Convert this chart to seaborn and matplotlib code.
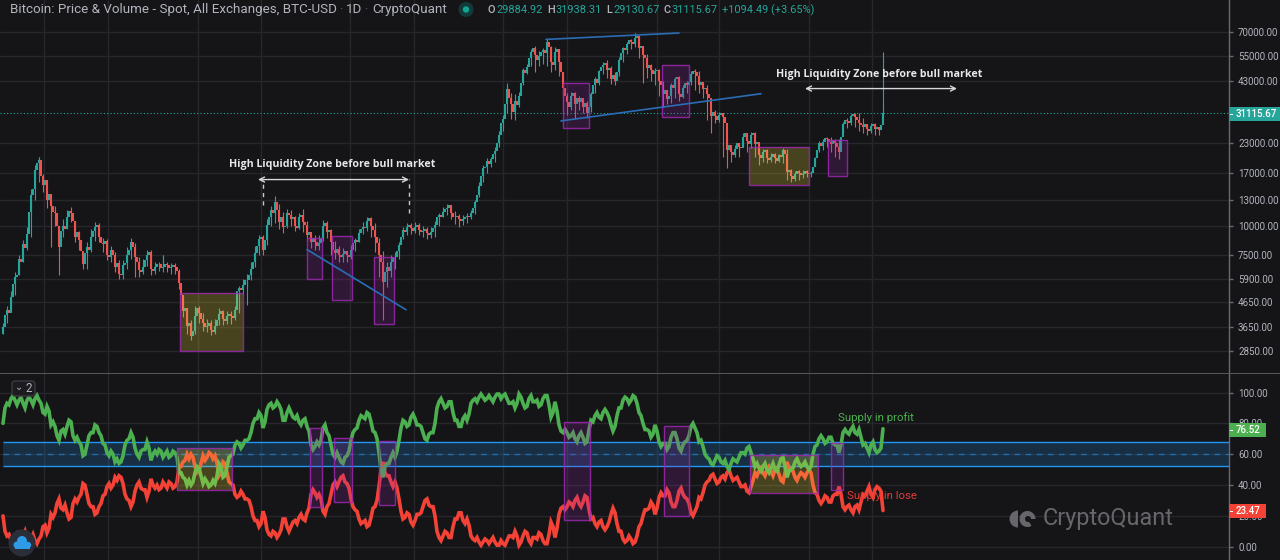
import numpy as np
import seaborn as sns
import matplotlib.pyplot as plt
from matplotlib.patches import Rectangle, Circle, FancyBboxPatch, Wedge
from matplotlib.transforms import IdentityTransform

# daily chart thinned out: one main reading every ~10 days...
price_close = [
    3650, 4320, 4930, 6010, 7190, 8330, 9200, 13600, 17500, 19400,
    15100, 13000, 12200, 11350, 8090, 10050, 10900, 11350, 8930, 8660,
    6840, 8090, 8930, 9860, 8930, 8330, 7480, 7900, 6640, 6190,
    6770, 7480, 8500, 7330, 6450, 6640, 7480, 6510, 6640, 6840,
    6640, 6770, 6640, 6640, 5620, 4250, 3670, 3320, 4050, 4180,
    3780, 3670, 3510, 3670, 4130, 3930, 4050, 4050, 4320, 5390,
    5560, 5840, 6510, 7650, 8750, 7900, 10150, 11800, 12700, 10400,
    9860, 11350, 10700, 10050, 10900, 10400, 9110, 8500, 8500, 8420,
    10050, 9400, 8500, 7650, 7480, 7570, 7480, 7900, 8660, 9300,
    9950, 10500, 10050, 8930, 7480, 5730, 6640, 7000, 7330, 8250,
    9650, 9860, 9760, 9860, 9650, 9550, 9300, 9400, 10100, 11200,
    11500, 12000, 11350, 10900, 10700, 10700, 11100, 11400, 12700, 14950,
    17850, 19200, 19500, 21300, 25000, 29300, 39400, 34000, 35000, 37000,
    48000, 49500, 57500, 55800, 54800, 58600, 63500, 52000, 57500, 52000,
    40000, 34700, 36900, 34000, 34700, 33000, 31100, 37600, 43500, 47200,
    50400, 48000, 43500, 42800, 53000, 59800, 62300, 63500, 66000, 59800,
    55800, 49000, 48000, 47200, 42800, 37600, 35700, 41300, 43500, 37600,
    40000, 41300, 46000, 46800, 41300, 39400, 37600, 30000, 30200, 30500,
    29800, 21400, 21000, 21750, 22200, 24500, 23500, 25000, 22800, 20300,
    21000, 19700, 20000, 19700, 20300, 21400, 17200, 16500, 16800, 17100,
    16900, 17100, 17100, 19700, 23000, 23300, 24000, 22800, 23000, 21000,
    27900, 28700, 30000, 29700, 28200, 27000, 26500, 27200, 26500, 26200,
    31115.67,
]
# ...and the jagged reading half way between each pair of them
price_between = [
    4100, 4200, 5600, 6100, 7000, 8000, 11500, 14500, 18800, 16500,
    15800, 13800, 11500, 10000, 9500, 9700, 11600, 10500, 9400, 7800,
    7600, 7900, 9500, 10100, 8400, 8600, 7300, 7500, 6900, 6100,
    6900, 7900, 8100, 7000, 6300, 7100, 7700, 6400, 6800, 6550,
    6850, 6550, 6750, 6400, 5000, 4400, 3800, 3500, 4400, 3950,
    3650, 3800, 3450, 3900, 4250, 3850, 4150, 3980, 5200, 5250,
    5800, 6100, 7000, 8200, 9000, 8700, 11000, 11400, 11800, 11000,
    10000, 11200, 11000, 9800, 11200, 10100, 9400, 8900, 8200, 8900,
    10300, 9600, 7900, 7950, 7300, 7750, 7350, 8400, 8500, 9700,
    9800, 10800, 9600, 8400, 7000, 6300, 6400, 7300, 7800, 9000,
    9400, 10100, 9500, 10100, 9400, 9700, 9150, 9800, 10900, 11000,
    11900, 12300, 11000, 11100, 10500, 10900, 11000, 12000, 13700, 16500,
    18000, 18700, 20500, 23000, 28000, 34000, 36000, 31500, 33500, 42000,
    46500, 54000, 59500, 53000, 57000, 56500, 60000, 50500, 59000, 47000,
    37000, 33000, 38000, 36000, 36000, 34500, 33000, 41000, 42000, 49500,
    51500, 49000, 45500, 47000, 56500, 58500, 64500, 62000, 67500, 61000,
    54000, 50500, 46000, 48000, 41000, 39000, 37000, 40000, 44500, 36500,
    42000, 42500, 47500, 45000, 42500, 40000, 36000, 31500, 29000, 31000,
    28000, 22500, 20300, 23000, 21800, 25500, 22800, 25500, 23200, 19700,
    21500, 19300, 20600, 19200, 20000, 20500, 17500, 16100, 17300, 16700,
    17400, 16800, 18000, 21500, 22300, 24300, 23300, 23700, 22000, 24500,
    28900, 28000, 30800, 29000, 27500, 27700, 26000, 27800, 27000, 27500,
]
price_high = [
    3800, 4500, 5200, 6300, 7500, 8700, 9900, 14500, 18500, 20000,
    16800, 14500, 12900, 12200, 10000, 10700, 11800, 12100, 10500, 9500,
    7700, 8500, 9700, 10400, 10300, 8900, 8800, 8200, 7700, 7100,
    7100, 8100, 8900, 8400, 7300, 7200, 7900, 7900, 7000, 7000,
    7480, 7000, 6900, 6900, 6500, 5000, 4400, 3900, 4500, 4500,
    4200, 3950, 3900, 3950, 4400, 4300, 4250, 4250, 4500, 5500,
    5900, 6200, 7000, 8200, 9100, 9100, 10700, 12200, 13500, 12500,
    11500, 11900, 11700, 11100, 11400, 11300, 10500, 9300, 9100, 9100,
    10600, 10500, 9700, 8600, 8200, 8000, 7800, 8300, 8900, 9700,
    10400, 10900, 11000, 10300, 8900, 7800, 7000, 7500, 7700, 8500,
    9900, 10300, 10300, 10400, 10300, 10000, 9900, 9900, 10500, 11400,
    12100, 12500, 12400, 11600, 11300, 11200, 11400, 11800, 13000, 15500,
    18500, 19700, 19900, 22000, 26000, 30500, 41000, 38000, 37500, 38500,
    49000, 51000, 59000, 61000, 58000, 59500, 65000, 61000, 60500, 59000,
    47000, 38000, 38500, 38500, 37000, 35500, 35000, 38500, 44500, 48000,
    52000, 53000, 50000, 47000, 54500, 60500, 63500, 65500, 69000, 66500,
    60000, 56000, 51000, 49000, 48500, 43000, 39000, 42000, 44500, 45000,
    41000, 43000, 47500, 48500, 47500, 42000, 41000, 32000, 32000, 31500,
    31000, 24500, 22000, 22500, 23000, 25500, 25500, 25800, 25800, 21500,
    21700, 21700, 20800, 20700, 20500, 21800, 21700, 17700, 17400, 17500,
    17500, 17500, 17400, 20000, 23500, 24000, 24500, 24500, 24000, 24000,
    28500, 29500, 30800, 31000, 31000, 29500, 27800, 28000, 28000, 27000,
    31938.31,
]
price_low = [
    3400, 3800, 4300, 5000, 6100, 7000, 7900, 9000, 13000, 15500,
    14000, 12000, 11000, 10000, 7800, 9000, 9700, 10400, 8500, 7900,
    6500, 6500, 7700, 8600, 8500, 7700, 7100, 7000, 6300, 5900,
    5900, 6500, 7200, 6900, 6000, 6200, 6700, 6100, 6200, 6400,
    6300, 6300, 6200, 6200, 5300, 4000, 3400, 3200, 3400, 3800,
    3500, 3450, 3350, 3400, 3700, 3700, 3750, 3750, 3900, 4200,
    5000, 5400, 5800, 6600, 7500, 7500, 8300, 10000, 10300, 9700,
    9300, 9800, 10000, 9500, 9700, 9400, 8500, 8000, 7900, 7900,
    8600, 8900, 7500, 7200, 7000, 7000, 7000, 7200, 7800, 8500,
    9200, 9500, 9000, 7700, 6000, 4800, 5400, 6000, 6500, 7200,
    8800, 9100, 9200, 9300, 9100, 9000, 8800, 8900, 9000, 10000,
    10900, 11200, 10700, 10200, 9900, 10100, 10300, 10700, 11300, 13400,
    15500, 17000, 18000, 19000, 22000, 26000, 31000, 30000, 29000, 33000,
    41000, 46000, 50000, 47000, 50000, 51000, 50000, 47000, 48000, 45000,
    36000, 30500, 32000, 32500, 32000, 31000, 29500, 31500, 38000, 41000,
    46000, 44000, 41500, 41000, 45000, 52000, 56000, 59000, 60000, 54000,
    46000, 44000, 43000, 41000, 37000, 33000, 34000, 34500, 36000, 35000,
    36000, 38000, 41000, 39000, 38000, 36000, 29000, 28500, 28000, 28500,
    20000, 19500, 19000, 20000, 20000, 22000, 21000, 21800, 20000, 18500,
    19000, 18800, 19000, 18800, 19000, 18800, 15900, 15500, 15700, 15900,
    16200, 16300, 16300, 18500, 21000, 21500, 22000, 21000, 20000, 19500,
    25500, 26700, 27500, 27000, 26000, 25500, 25000, 25500, 25000, 24800,
    29130.67,
]
first_open = 3400

# long wicks that stick out even further
low_wick_idx = [14, 12, 33, 61, 95, 127, 140, 143, 160, 177, 181, 209]
low_wick_val = [6150, 8100, 6010, 4520, 3880, 29300, 30900, 29300, 42000, 25500, 17900, 19700]
high_wick_idx = [9, 40, 75, 80, 126, 136, 158, 220]
high_wick_val = [20000, 7480, 11900, 10500, 42000, 65000, 69000, 57300]

supply_profit = [
    80, 93, 96, 95, 95, 93, 95, 95, 96, 95,
    87, 91, 79, 78, 69, 76, 78, 81, 69, 68,
    59, 66, 74, 79, 74, 67, 61, 62, 55, 54,
    59, 69, 74, 64, 58, 63, 68, 56, 62, 63,
    58, 62, 59, 61, 48, 45, 40, 40, 48, 51,
    41, 42, 40, 41, 54, 45, 52, 59, 66, 67,
    66, 69, 74, 83, 87, 77, 89, 93, 91, 92,
    82, 87, 87, 83, 81, 82, 78, 66, 65, 66,
    77, 74, 66, 58, 58, 54, 59, 69, 76, 82,
    84, 87, 81, 74, 61, 45, 54, 58, 58, 69,
    82, 78, 84, 83, 79, 74, 69, 74, 80, 94,
    93, 91, 94, 82, 78, 83, 82, 93, 96, 97,
    97, 96, 96, 97, 99, 98, 96, 93, 90, 99,
    93, 91, 98, 94, 91, 96, 98, 84, 94, 79,
    74, 74, 72, 70, 72, 71, 68, 82, 85, 84,
    87, 87, 79, 78, 90, 95, 96, 95, 97, 87,
    80, 76, 71, 79, 68, 67, 63, 71, 74, 64,
    66, 69, 78, 77, 68, 65, 58, 54, 56, 58,
    54, 52, 54, 56, 58, 61, 64, 61, 52, 51,
    52, 50, 51, 50, 53, 58, 45, 50, 55, 54,
    53, 52, 52, 65, 70, 70, 68, 71, 66, 61,
    74, 74, 76, 74, 76, 66, 64, 66, 63, 62,
    76.52,
]
profit_between = [
    90, 92, 98, 92, 97, 90, 97, 92, 98, 93,
    86, 88, 81, 72, 75, 73, 82, 72, 71, 66,
    60, 72, 74, 78, 72, 66, 59, 60, 57, 55,
    66, 70, 71, 60, 62, 63, 64, 60, 60, 62,
    60, 58, 62, 58, 48, 44, 43, 42, 52, 46,
    44, 39, 43, 46, 52, 46, 58, 60, 68, 64,
    69, 70, 80, 83, 85, 81, 92, 90, 94, 89,
    82, 90, 84, 85, 79, 83, 75, 63, 68, 69,
    79, 72, 60, 61, 55, 58, 62, 74, 77, 85,
    83, 86, 75, 70, 50, 52, 54, 61, 62, 77,
    81, 79, 86, 79, 78, 70, 73, 74, 90, 96,
    90, 94, 87, 82, 78, 85, 86, 95, 94, 99,
    95, 98, 94, 99, 96, 99, 93, 94, 93, 97,
    90, 96, 94, 95, 92, 98, 92, 87, 88, 75,
    76, 71, 74, 68, 74, 67, 76, 81, 87, 83,
    89, 84, 75, 85, 90, 97, 93, 98, 93, 85,
    76, 75, 73, 75, 65, 67, 65, 74, 70, 62,
    68, 72, 80, 74, 69, 60, 57, 53, 59, 55,
    56, 50, 57, 55, 61, 60, 65, 57, 54, 49,
    54, 48, 54, 49, 57, 52, 49, 51, 57, 52,
    55, 50, 60, 66, 72, 67, 71, 67, 66, 66,
    76, 73, 78, 73, 71, 67, 61, 68, 61, 64,
]
supply_loss = [
    20, 7, 4, 5, 5, 7, 5, 5, 4, 5,
    13, 9, 21, 22, 31, 24, 22, 19, 31, 32,
    41, 34, 26, 21, 26, 33, 39, 38, 45, 46,
    41, 31, 26, 36, 42, 37, 32, 44, 38, 37,
    42, 38, 41, 39, 52, 55, 60, 60, 52, 49,
    59, 58, 60, 59, 46, 55, 48, 41, 34, 33,
    34, 31, 26, 17, 13, 23, 11, 7, 9, 8,
    18, 13, 13, 17, 19, 18, 22, 34, 35, 34,
    23, 26, 34, 42, 42, 46, 41, 31, 24, 18,
    16, 13, 19, 26, 39, 55, 46, 42, 42, 31,
    18, 22, 16, 17, 21, 26, 31, 26, 20, 6,
    7, 9, 6, 18, 22, 17, 18, 7, 4, 3,
    3, 4, 4, 3, 1, 2, 4, 7, 10, 1,
    7, 9, 2, 6, 9, 4, 2, 16, 6, 21,
    26, 26, 28, 30, 28, 29, 32, 18, 15, 16,
    13, 13, 21, 22, 10, 5, 4, 5, 3, 13,
    20, 24, 29, 21, 32, 33, 37, 29, 26, 36,
    34, 31, 22, 23, 32, 35, 42, 46, 44, 42,
    46, 48, 46, 44, 42, 39, 36, 39, 48, 49,
    48, 50, 49, 50, 47, 42, 55, 50, 45, 46,
    47, 48, 48, 35, 30, 30, 32, 29, 34, 39,
    26, 26, 24, 26, 24, 34, 36, 34, 37, 38,
    23.47,
]
loss_between = [
    10, 8, 2, 8, 3, 10, 3, 8, 2, 7,
    14, 12, 19, 28, 25, 27, 18, 28, 29, 34,
    40, 28, 26, 22, 28, 34, 41, 40, 43, 45,
    34, 30, 29, 40, 38, 37, 36, 40, 40, 38,
    40, 42, 38, 42, 52, 56, 57, 58, 48, 54,
    56, 61, 57, 54, 48, 54, 42, 40, 32, 36,
    31, 30, 20, 17, 15, 19, 8, 10, 6, 11,
    18, 10, 16, 15, 21, 17, 25, 37, 32, 31,
    21, 28, 40, 39, 45, 42, 38, 26, 23, 15,
    17, 14, 25, 30, 50, 48, 46, 39, 38, 23,
    19, 21, 14, 21, 22, 30, 27, 26, 10, 4,
    10, 6, 13, 18, 22, 15, 14, 5, 6, 1,
    5, 2, 6, 1, 4, 1, 7, 6, 7, 3,
    10, 4, 6, 5, 8, 2, 8, 13, 12, 25,
    24, 29, 26, 32, 26, 33, 24, 19, 13, 17,
    11, 16, 25, 15, 10, 3, 7, 2, 7, 15,
    24, 25, 27, 25, 35, 33, 35, 26, 30, 38,
    32, 28, 20, 26, 31, 40, 43, 47, 41, 45,
    44, 50, 43, 45, 39, 40, 35, 43, 46, 51,
    46, 52, 46, 51, 43, 48, 51, 49, 43, 48,
    45, 50, 40, 34, 28, 33, 29, 33, 34, 34,
    24, 27, 22, 27, 29, 33, 39, 32, 39, 36,
]

price_ticks = [70000, 55000, 43000, 23000, 17000, 13000, 10000, 7500, 5900, 4650, 3650, 2850]
supply_ticks = [0, 20, 40, 60, 80, 100]
# the time axis has no labels in the picture, these are reading numbers
time_grid = [10.25, 26.25, 48.75, 64.5, 86.75, 102.75, 125, 141, 163.5, 179, 201.5, 217.25]

# (start, end, low, high)
price_purple = [(76, 79.75, 5900, 8870), (82.25, 87.25, 4780, 9040), (92.75, 97.75, 3730, 7330),
                (140, 146.5, 26800, 42100), (164.75, 171.5, 29700, 50300), (206.25, 211, 16500, 23700)]
price_olive = [(44.3, 60.1, 2850, 5100), (186.5, 201.5, 15100, 22200)]
supply_purple = [(76.75, 79.75, 25.7, 77), (82.75, 87.25, 29, 70.4), (94, 98, 27, 68.5),
                 (140.25, 146.75, 17.3, 80.8), (165.25, 171.5, 19.9, 78), (207, 210, 36.7, 67.2)]
supply_olive = [(43.5, 57.25, 36.7, 64), (186.75, 203.75, 34.8, 59.4)]
trend_lines = [(135.75, 169, 65000, 69300), (139.5, 189.5, 28700, 37700), (76, 100.75, 7900, 4320)]

BG = '#151518'
GRID = '#26262c'
TEXT = '#b2b5be'
UP = '#26a69a'
DOWN = '#ef5350'
BLUE = '#2196f3'
PURPLE = '#9c27b0'
W, H = 1280, 560

sns.set_theme(style='dark', rc={'axes.facecolor': BG, 'figure.facecolor': BG})
plt.rcParams['font.family'] = ['Roboto', 'DejaVu Sans']

fig = plt.figure(figsize=(W / 100, H / 100), dpi=100)
ax = fig.add_axes([0, 187 / H, 1229 / W, 373 / H])
ax2 = fig.add_axes([0, 0, 1229 / W, 186 / H])


def weave(main, between):
    out = np.empty(len(main) + len(between))
    out[0::2] = main
    out[1::2] = between
    return out


close = weave(price_close, price_between)
idx = np.arange(len(close)) / 2
opens = np.r_[first_open, close[:-1]]
candle_colors = [UP if c >= o else DOWN for o, c in zip(opens, close)]

# wicks, then bodies
main_idx = np.arange(len(price_close))
main_close = np.array(price_close)
ax.vlines(main_idx, price_low, price_high, colors=candle_colors[::2], lw=0.8, zorder=3)
ax.vlines(low_wick_idx, main_close[low_wick_idx], low_wick_val,
          colors=[candle_colors[2 * i] for i in low_wick_idx], lw=0.8, zorder=3)
ax.vlines(high_wick_idx, main_close[high_wick_idx], high_wick_val,
          colors=[candle_colors[2 * i] for i in high_wick_idx], lw=0.8, zorder=3)
ax.vlines(idx, opens, close, colors=candle_colors, lw=1.5, zorder=3)

ax.set_yscale('log')
ax.set_ylim(2290, 96500)
ax.set_xlim(-0.75, 306.5)
ax.set_yticks(price_ticks)
ax.set_yticklabels([f'{t:.2f}' for t in price_ticks])
ax.minorticks_off()
ax.axhline(price_close[-1], color=UP, lw=0.8, ls=(0, (1, 2)), zorder=2)


def boxes(axis, rows, fill, alpha):
    for x0, x1, y0, y1 in rows:
        axis.add_patch(Rectangle((x0, y0), x1 - x0, y1 - y0, facecolor=fill, alpha=alpha, lw=0, zorder=4))
        axis.add_patch(Rectangle((x0, y0), x1 - x0, y1 - y0, fill=False, edgecolor=PURPLE, lw=1, alpha=0.85, zorder=4))


boxes(ax, price_purple, PURPLE, 0.2)
boxes(ax, price_olive, '#ffeb3b', 0.22)

for x0, x1, y0, y1 in trend_lines:
    ax.plot([x0, x1], [y0, y1], color='#2a6db5', lw=1.2, zorder=5)

# the two "high liquidity" brackets
arrow_style = dict(arrowstyle='<->', color='#d8d8dc', lw=1, mutation_scale=9, shrinkA=0, shrinkB=0)
ax.annotate('', xy=(63.75, 15940), xytext=(101.5, 15940), arrowprops=arrow_style, zorder=6)
ax.annotate('', xy=(200.5, 39700), xytext=(238.5, 39700), arrowprops=arrow_style, zorder=6)
ax.vlines([65], 12400, 16100, colors='#c8c8cc', lw=1, linestyles=(0, (3, 3)), zorder=6)
ax.vlines([101.5], 11400, 16100, colors='#c8c8cc', lw=1, linestyles=(0, (3, 3)), zorder=6)
note_font = dict(color='#e8e8ea', fontsize=7.7, fontweight='bold', ha='center', va='center', family='Open Sans', zorder=6)
ax.text(82.25, 18620, 'High Liquidity Zone before bull market', **note_font)
ax.text(219, 45500, 'High Liquidity Zone before bull market', **note_font)

# lower panel
ax2.axhspan(52.3, 67.9, xmin=3 / 1229, color=BLUE, alpha=0.2, lw=0, zorder=1)
ax2.hlines([52.3, 67.9], 0, 306.5, colors=BLUE, lw=1, zorder=2)
ax2.hlines([60], 0, 306.5, colors=BLUE, lw=1, linestyles=(0, (4, 4)), alpha=0.55, zorder=2)
boxes(ax2, supply_purple, PURPLE, 0.2)
boxes(ax2, supply_olive, '#ffeb3b', 0.22)
sns.lineplot(x=idx, y=weave(supply_loss, loss_between), color='#f44336', lw=2.6, ax=ax2, zorder=3,
             solid_joinstyle='miter')
sns.lineplot(x=idx, y=weave(supply_profit, profit_between), color='#4caf50', lw=2.6, ax=ax2, zorder=3,
             solid_joinstyle='miter')
ax2.set_xlim(-0.75, 306.5)
ax2.set_ylim(-8.6, 112)
ax2.set_yticks(supply_ticks)
ax2.set_yticklabels([f'{t:.2f}' for t in supply_ticks])
ax2.text(208.75, 84, 'Supply in profit', color='#4caf50', fontsize=8.2, va='center', zorder=6)
ax2.text(211, 32.9, 'Supply in lose', color='#e53935', fontsize=8.2, va='center', zorder=6)

for a in (ax, ax2):
    a.yaxis.tick_right()
    a.set_xticks(time_grid)
    a.tick_params(axis='x', length=0, labelbottom=False)
    a.tick_params(axis='y', length=3, width=1, color='#6a6a70', labelcolor=TEXT, labelsize=7, pad=3.5)
    a.grid(True, color=GRID, lw=1)
    a.set_axisbelow(True)
    for side in ('top', 'left', 'bottom'):
        a.spines[side].set_visible(False)
    a.spines['right'].set_color('#6a6a70')
    a.spines['right'].set_linewidth(1)


# furniture placed in screen pixels, y counted from the top like the screenshot
def screen_text(x, y, s, **kw):
    fig.text(x / W, 1 - y / H, s, va='center', zorder=8, **kw)


def screen_patch(p):
    p.set_transform(IdentityTransform())
    p.set_zorder(7)
    fig.add_artist(p)


sep = Rectangle((0, H - 374), W, 1, facecolor='#55555a', lw=0)
screen_patch(sep)

screen_text(10, 9.5, 'Bitcoin: Price & Volume - Spot, All Exchanges, BTC-USD', color=TEXT, fontsize=9.6)
screen_text(339, 9.5, '·', color='#6a6a70', fontsize=8.9)
screen_text(346, 9.5, '1D', color=TEXT, fontsize=9.6)
screen_text(364, 9.5, '·', color='#6a6a70', fontsize=8.9)
screen_text(372, 9.5, 'CryptoQuant', color=TEXT, fontsize=9.6)
screen_patch(Circle((466, H - 9.5), 7.5, facecolor='#123a38', lw=0))
screen_patch(Circle((466, H - 9.5), 3.2, facecolor='#12a594', lw=0))

ohlc_labels = ['O', 'H', 'L', 'C']
ohlc_values = ['29884.92', '31938.31', '29130.67', '31115.67']
for lab, val, x0, x1 in zip(ohlc_labels, ohlc_values, [487, 547, 606, 663], [496, 555, 613, 671]):
    screen_text(x0, 10, lab, color=TEXT, fontsize=7.9, fontweight='medium')
    screen_text(x1, 10, val, color=UP, fontsize=7.9)
screen_text(722, 10, '+1094.49 (+3.65%)', color=UP, fontsize=7.9)

# last value tags on the right
tags = [(107, 14, 51, UP, '31115.67'), (423, 14, 37, '#4caf50', '76.52'), (504, 14, 37, '#f44336', '23.47')]
for y0, h, w, col, s in tags:
    screen_patch(Rectangle((1229, H - y0 - h), w, h, facecolor=col, lw=0))
    screen_patch(Rectangle((1230, H - y0 - h / 2 - 0.5), 3, 1, facecolor='white', lw=0))
    screen_text(1236, y0 + h / 2, s, color='white', fontsize=7, fontweight='medium')

# collapsed pane badge
screen_patch(FancyBboxPatch((12, H - 396), 23, 15, boxstyle='round,pad=0,rounding_size=3', facecolor='#1c1c20',
                            edgecolor='#3a3a40', lw=1))
screen_text(15, 387, '⌄', color=TEXT, fontsize=7, family='DejaVu Sans')
screen_text(26, 388, '2', color=TEXT, fontsize=8.4)

# little round app icon, bottom left
screen_patch(Circle((22, H - 543), 13.5, facecolor='#2a2e39', lw=0))
screen_patch(Circle((17, H - 545), 3.5, facecolor='#2e9be8', lw=0))
screen_patch(Circle((22, H - 541), 5, facecolor='#2e9be8', lw=0))
screen_patch(Circle((28, H - 545), 3.2, facecolor='#2e9be8', lw=0))
screen_patch(Rectangle((15, H - 548.5), 15, 3.5, facecolor='#2e9be8', lw=0))

# watermark
wm = '#66666b'
screen_patch(Wedge((1018, H - 519), 8.5, 90, 270, facecolor=wm, lw=0))
screen_patch(Wedge((1027.5, H - 519), 8, 0, 300, width=8, facecolor=wm, lw=0))
screen_patch(Circle((1028, H - 519), 3, facecolor=BG, lw=0))
screen_text(1043, 519, 'CryptoQuant', color=wm, fontsize=16.8)

fig.savefig('out.png', dpi=100, facecolor=BG)
